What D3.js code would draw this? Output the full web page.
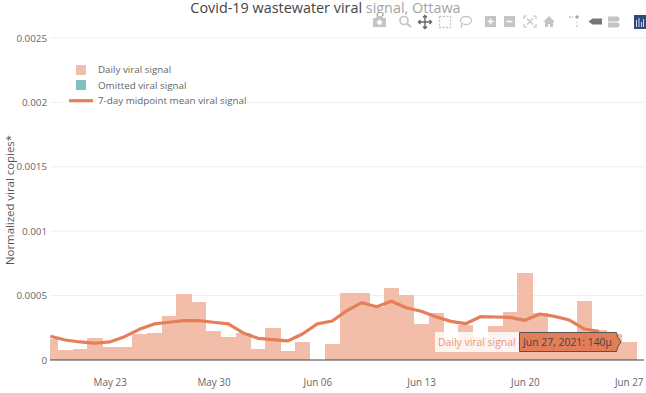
<!DOCTYPE html>
<html><head><meta charset="utf-8">
<script src="https://cdn.jsdelivr.net/npm/d3@7"></script>
<style>html,body{margin:0;padding:0;background:#fff;overflow:hidden}svg{display:block;font-family:"Open Sans",sans-serif}</style>
</head><body><div id="c"></div>
<script>
const startDate = "2021-05-19";
const dailySignal = [0.000163,0.000078,0.000085,0.000168,0.0001,0.0001,0.0002,0.000212,0.00034,0.000512,0.000453,0.000225,0.000178,0.000207,0.000085,0.00025,0.000072,0.00014,null,0.000124,0.000518,0.000523,0.000414,0.000557,0.000505,0.000277,0.000363,0.00015,0.000272,0.00018,0.000264,0.000373,0.000673,0.000365,0.00015,0.00015,0.000458,0.000233,0.0002,0.00014];
const midpointMean = [0.000184,0.000155,0.00014,0.00013,0.00014,0.000181,0.000238,0.00028,0.000293,0.000305,0.000305,0.000293,0.00028,0.00021,0.000168,0.000158,0.000148,0.000202,0.00028,0.000303,0.000383,0.000445,0.000414,0.000456,0.000406,0.000378,0.000336,0.0003,0.000282,0.000336,0.000334,0.000331,0.000308,0.000357,0.000339,0.00031,0.000241,0.000223];
const yTicks = [0,0.0005,0.001,0.0015,0.002,0.0025];
const yTickLabels = ["0","0.0005","0.001","0.0015","0.002","0.0025"];
const xTickDates = ["2021-05-23","2021-05-30","2021-06-06","2021-06-13","2021-06-20","2021-06-27"];
const xTickLabels = ["May 23","May 30","Jun 06","Jun 13","Jun 20","Jun 27"];
const legendLabels = ["Daily viral signal","Omitted viral signal","7-day midpoint mean viral signal"];
const titleText = "Covid-19 wastewater viral signal, Ottawa";
const yAxisTitle = "Normalized viral copies*";
const hoverLabel = "Daily viral signal";
const hoverValue = "Jun 27, 2021: 140µ";

const W=646,H=393,L=50,R=644;
const day=864e5, t0=new Date(startDate+"T00:00Z");
const dateAt=i=>new Date(+t0+i*day);
const x=d3.scaleUtc().domain([t0,dateAt(39)]).range([50.4,628.7]);
const y=d3.scaleLinear().domain([0,0.0025]).range([360,38]);
const bw=x(dateAt(1))-x(dateAt(0));
const svg=d3.select("#c").append("svg").attr("width",W).attr("height",H);
svg.append("defs").append("clipPath").attr("id","plot").append("rect").attr("x",L).attr("y",0).attr("width",R-L).attr("height",360);

const yAxis=d3.axisLeft(y).tickValues(yTicks).tickFormat((d,i)=>yTickLabels[i]).tickSize(0).tickPadding(2);
const gy=svg.append("g").attr("transform",`translate(${L-1},0)`).call(yAxis);
gy.select(".domain").remove();
gy.selectAll("text").attr("fill","#666").style("font-size","9.8px").style("font-family","Open Sans");
svg.append("g").selectAll("line").data(yTicks.filter(d=>d>0)).join("line")
  .attr("x1",L).attr("x2",R).attr("y1",d=>y(d)).attr("y2",d=>y(d)).attr("stroke","#eee").attr("stroke-width",1);

const xAxis=d3.axisBottom(x).tickValues(xTickDates.map(d=>new Date(d+"T00:00Z"))).tickFormat((d,i)=>xTickLabels[i]).tickSize(0).tickPadding(0);
const gx=svg.append("g").attr("transform","translate(0,379)").call(xAxis);
gx.select(".domain").remove();
gx.selectAll("text").attr("fill","#666").attr("dy","0.7em").style("font-size","9.9px").style("font-family","Open Sans").attr("y",0);

const plot=svg.append("g").attr("clip-path","url(#plot)");
plot.append("g").attr("shape-rendering","crispEdges").selectAll("rect").data(dailySignal.map((v,i)=>({v,i})).filter(d=>d.v!=null)).join("rect")
  .attr("x",d=>x(dateAt(d.i))-bw/2).attr("width",bw+0.4).attr("y",d=>y(d.v)).attr("height",d=>y(0)-y(d.v)).attr("fill","#f2bda9");
svg.append("path").datum(midpointMean).attr("fill","none").attr("stroke","#e57f5a").attr("stroke-width",3.2).attr("stroke-linejoin","round")
  .attr("d",d3.line().x((d,i)=>x(dateAt(i))).y(d=>y(d)));
svg.append("line").attr("x1",L).attr("x2",R).attr("y1",360).attr("y2",360).attr("stroke","#444").attr("stroke-width",1.2);

svg.append("text").attr("transform","translate(14,200) rotate(-90)").attr("text-anchor","middle").attr("fill","#555").style("font-size","11.4px").text(yAxisTitle);

svg.append("text").attr("x",325.5).attr("y",13).attr("text-anchor","middle").attr("fill","#444").style("font-size","14.4px").style("font-weight",500).text(titleText);

svg.append("rect").attr("x",63).attr("y",57).attr("width",184).attr("height",54).attr("fill","#fff");
const ly=[70,85.5,101];
const leg=svg.append("g");
leg.selectAll("text").data(legendLabels).join("text").attr("x",98).attr("y",(d,i)=>ly[i]+3.4).attr("fill","#666").style("font-size","9.8px").text(d=>d);
leg.append("rect").attr("x",76).attr("y",65).attr("width",10).attr("height",10).attr("fill","#f2bda9");
leg.append("rect").attr("x",76).attr("y",80).attr("width",10).attr("height",10).attr("fill","#84bfbf");
leg.append("line").attr("x1",69).attr("x2",93).attr("y1",100.7).attr("y2",100.7).attr("stroke","#e57f5a").attr("stroke-width",3.2);

svg.append("rect").attr("x",435).attr("y",332).attr("width",85).attr("height",20).attr("fill","#fff").attr("fill-opacity",0.82);
svg.append("text").attr("x",438).attr("y",346).attr("fill","#e9977a").style("font-size","10.4px").text(hoverLabel);
svg.append("path").attr("d","M519.5,332.5H616.5L618,337.5L621,342L618,346.5L616.5,351.5H519.5Z").attr("fill","#e27d57").attr("stroke","#555").attr("stroke-width",1);
svg.append("text").attr("x",523).attr("y",346).attr("fill","#444").style("font-size","10.4px").text(hoverValue);

const mb=svg.append("g");
mb.append("rect").attr("x",366).attr("y",0).attr("width",280).attr("height",32).attr("fill","#fff").attr("fill-opacity",0.5);
const ic="#c4c4c4";
mb.append("path").attr("d","M373,18h3l1,-2h5l1,2h3v9h-13z").attr("fill",ic);
mb.append("circle").attr("cx",379.5).attr("cy",22.5).attr("r",2.4).attr("fill","#fff");
mb.append("circle").attr("cx",404).attr("cy",20.5).attr("r",4).attr("fill","none").attr("stroke",ic).attr("stroke-width",1.7);
mb.append("line").attr("x1",407).attr("y1",23.5).attr("x2",411).attr("y2",27).attr("stroke",ic).attr("stroke-width",2);
mb.append("path").attr("d","M425,15.5v13M418.5,22h13M423,17.5l2,-2l2,2M423,26.5l2,2l2,-2M420.5,20l-2,2l2,2M429.5,20l2,2l-2,2").attr("fill","none").attr("stroke","#666").attr("stroke-width",1.4);
mb.append("rect").attr("x",439.5).attr("y",16.5).attr("width",11).attr("height",11).attr("fill","none").attr("stroke",ic).attr("stroke-width",1.3).attr("stroke-dasharray","2,1.5");
mb.append("ellipse").attr("cx",466).attr("cy",20.5).attr("rx",5.5).attr("ry",4).attr("fill","none").attr("stroke",ic).attr("stroke-width",1.3);
mb.append("path").attr("d","M462,24l-1,4").attr("stroke",ic).attr("stroke-width",1.3);
mb.append("rect").attr("x",485).attr("y",16).attr("width",11).attr("height",11).attr("fill",ic);
mb.append("path").attr("d","M487.5,21.5h6M490.5,18.5v6").attr("stroke","#fff").attr("stroke-width",1.6);
mb.append("rect").attr("x",504).attr("y",16).attr("width",11).attr("height",11).attr("fill",ic);
mb.append("path").attr("d","M506.5,21.5h6").attr("stroke","#fff").attr("stroke-width",1.6);
mb.append("path").attr("d","M524,19v-3h3M536,19v-3h-3M524,24v3h3M536,24v3h-3M527,18.5l6,6M533,18.5l-6,6").attr("fill","none").attr("stroke",ic).attr("stroke-width",1.2);
mb.append("path").attr("d","M543,22l6,-6l6,6h-2v5h-3v-3h-2v3h-3v-5z").attr("fill",ic);
mb.append("path").attr("d","M569,17h2M572,17h1M577,22v1M577,25v2").attr("stroke",ic).attr("stroke-width",1.3);
mb.append("circle").attr("cx",577).attr("cy",17).attr("r",1.8).attr("fill","#aaa");
mb.append("path").attr("d","M588.5,21.5l4,-3h9.5v6h-9.5z").attr("fill","#777");
mb.append("path").attr("d","M608,16.5h10l2,2.5l-2,2.5h-10zM608,22.5h10l2,2.5l-2,2.5h-10z").attr("fill",ic);
mb.append("rect").attr("x",634).attr("y",15).attr("width",12).attr("height",14).attr("fill","#2d4a7a");
mb.append("path").attr("d","M636.5,20v7M639,18v9M641.5,22v5M643.5,19v8").attr("stroke","#cfd8e8").attr("stroke-width",1);
</script></body></html>
